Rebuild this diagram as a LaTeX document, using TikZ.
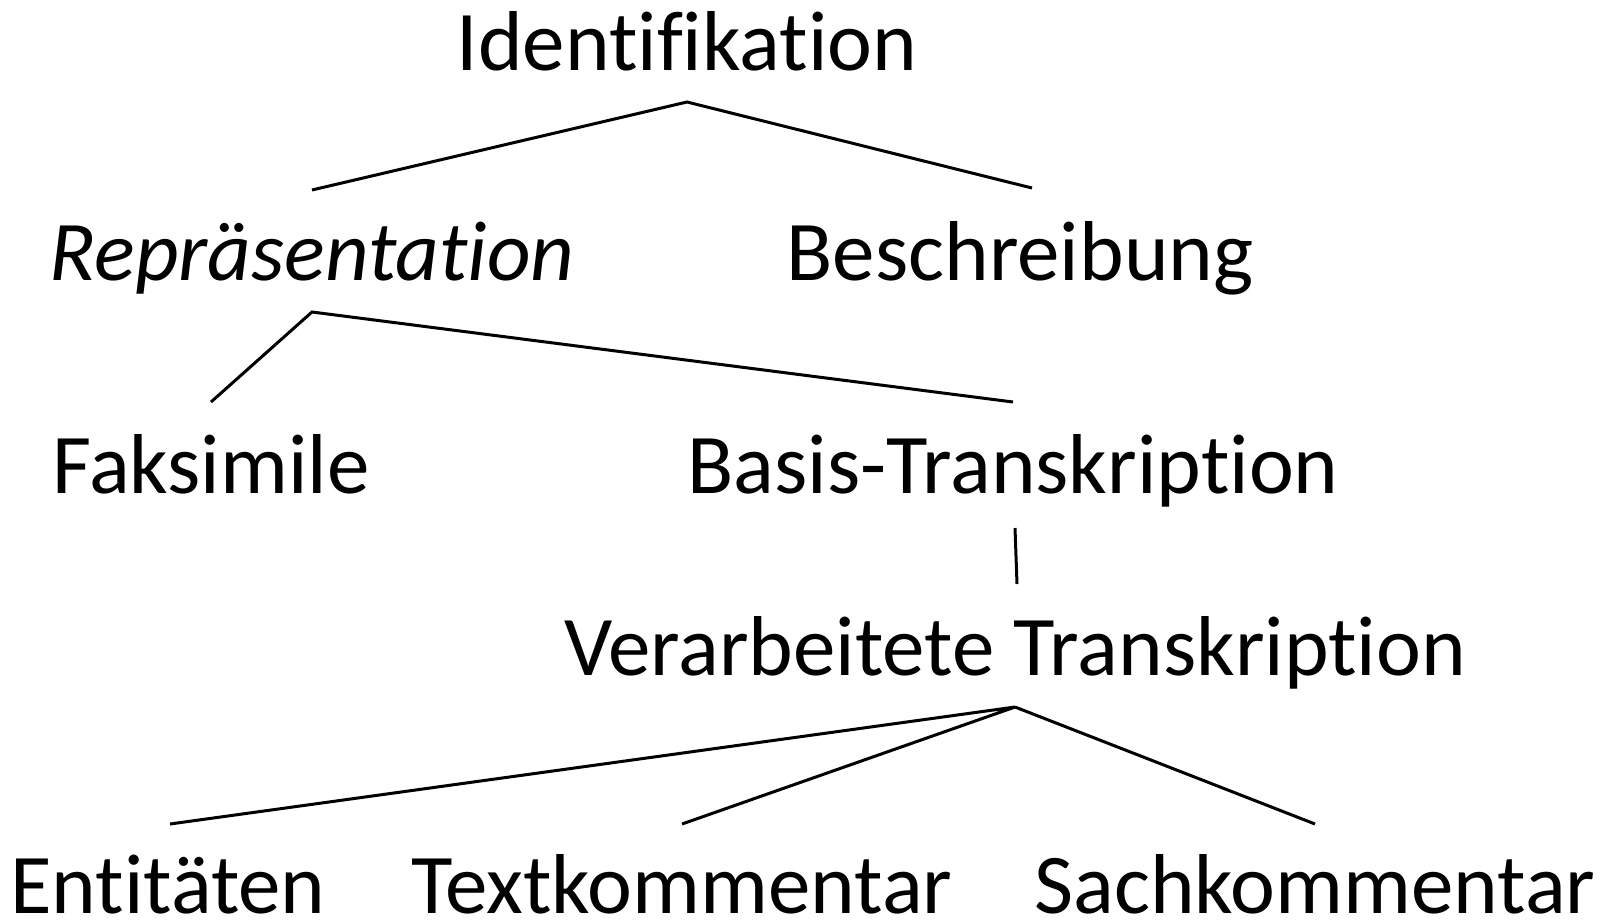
\documentclass[tikz,border=0pt]{standalone}
\usepackage{fontspec}
\setmainfont[Ligatures={NoCommon,NoRare,NoContextual}]{Carlito}
\usetikzlibrary{calc}
\begin{document}
\begin{tikzpicture}[x=1pt,y=-1pt,
  lbl/.style={anchor=base,inner sep=0pt,font=\fontsize{85}{90}\selectfont},
  edge/.style={line width=3pt,line cap=butt}]
\useasboundingbox (0,0) rectangle (1616,919);
\node[lbl] (ident) at (687,70) {Identifikation};
\node[lbl,font=\fontsize{85}{90}\selectfont\itshape] (repr) at (312,280) {Repräsentation};
\node[lbl] (beschr) at (1020,280) {Beschreibung};
\node[lbl] (faks) at (211,493) {Faksimile};
\node[lbl] (basis) at (1013,493) {Basis-Transkription};
\node[lbl] (verarb) at (1015,675) {Verarbeitete Transkription};
\node[lbl] (ent) at (168,913) {Entitäten};
\node[lbl] (text) at (682,913) {Textkommentar};
\node[lbl] (sach) at (1315,913) {Sachkommentar};
\draw[edge] ($(repr.base)+(0,-90)$) -- ($(ident.base)+(0,32)$) -- ($(beschr.base)+(12,-92)$);
\draw[edge] ($(faks.base)+(0,-91)$) -- ($(repr.base)+(0,32)$) -- ($(basis.base)+(0,-91)$);
\draw[edge] ($(basis.base)+(2,35)$) -- ($(verarb.base)+(2,-91)$);
\draw[edge] ($(ent.base)+(2,-89)$) -- ($(verarb.base)+(0,32)$) -- ($(text.base)+(0,-89)$);
\draw[edge] ($(verarb.base)+(0,32)$) -- ($(sach.base)+(0,-89)$);
\end{tikzpicture}
\end{document}
